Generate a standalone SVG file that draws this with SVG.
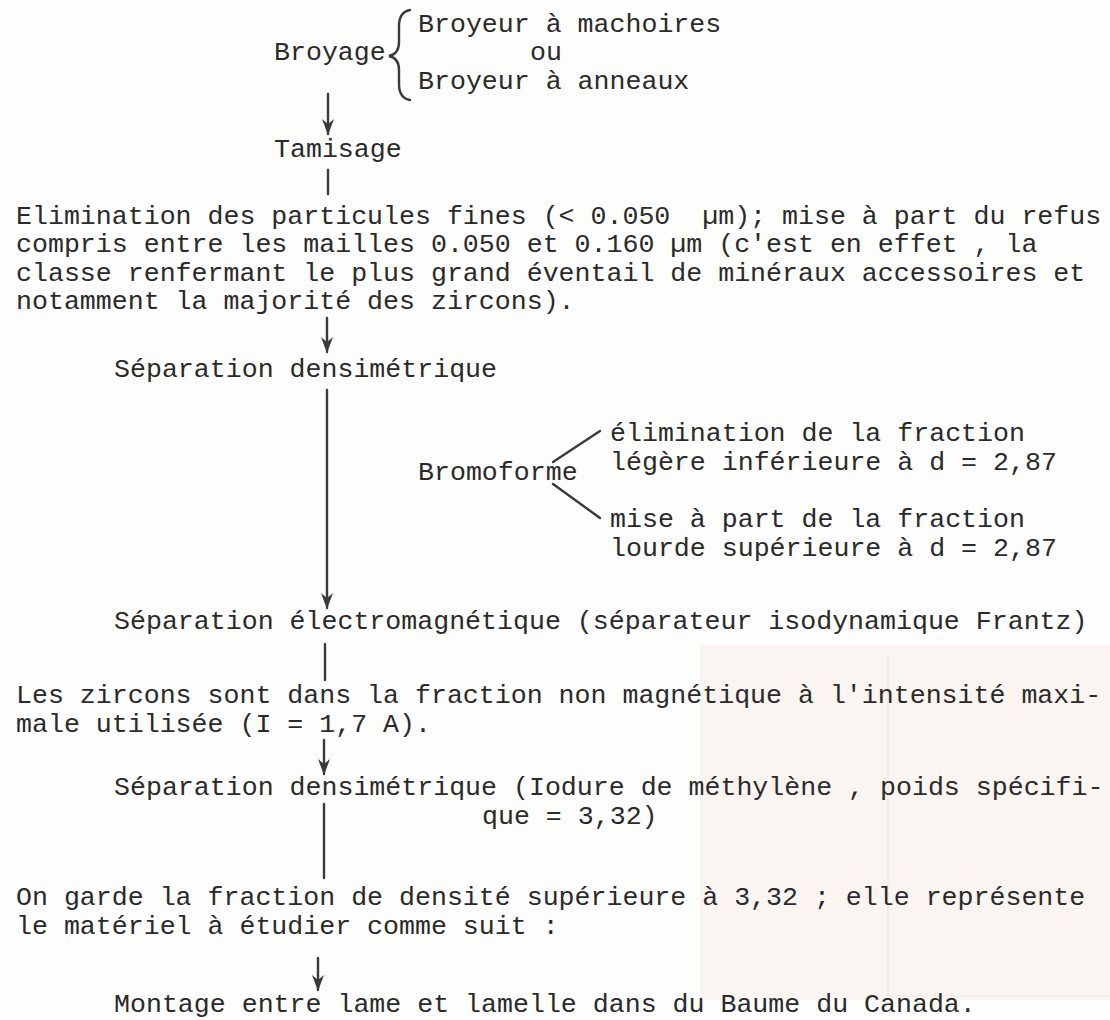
<svg xmlns="http://www.w3.org/2000/svg" width="1110" height="1020" viewBox="0 0 1110 1020">
<defs>
<style>
.t{font-family:"Liberation Mono","Courier New",monospace;font-size:26.6px;fill:#2a2a2a;white-space:pre}
.c{stroke:#3a3a3a;stroke-width:2.4;fill:none;stroke-linecap:round}
</style>
<marker id="ah" viewBox="0 0 16 12" refX="15" refY="6" markerWidth="16" markerHeight="12" markerUnits="userSpaceOnUse" orient="auto">
<path d="M0,0 L16,6 L0,12 L5,6 z" fill="#3a3a3a"/>
</marker>
</defs>
<rect width="1110" height="1020" fill="#fdfdfb"/>
<rect x="700" y="645" width="410" height="355" fill="#faf5f1"/>
<path d="M888,652 L888,996 L1110,996" fill="none" stroke="#efe8e2" stroke-width="1.2"/>
<g id="broyage"><text class="t" x="274" y="60">Broyage</text></g>
<g id="brace"><path class="c" stroke-width="2" d="M410,10 Q399,12 399,26 L399,42 Q399,54 389,56 Q399,58 399,70 L399,84 Q399,98 410,100"/></g>
<g id="broyeurs">
<text class="t" x="418" y="32">Broyeur à machoires</text>
<text class="t" x="530" y="60">ou</text>
<text class="t" x="418" y="89">Broyeur à anneaux</text>
</g>
<g id="tamisage"><text class="t" x="274" y="157">Tamisage</text></g>
<g id="elimination">
<text class="t" x="16" y="224">Elimination des particules fines (&lt; 0.050  µm); mise à part du refus</text>
<text class="t" x="16" y="252">compris entre les mailles 0.050 et 0.160 µm (c'est en effet , la</text>
<text class="t" x="16" y="281">classe renfermant le plus grand éventail de minéraux accessoires et</text>
<text class="t" x="16" y="309">notamment la majorité des zircons).</text>
</g>
<g id="sep-dens1"><text class="t" x="114" y="377">Séparation densimétrique</text></g>
<g id="bromoforme"><text class="t" x="418" y="480">Bromoforme</text></g>
<g id="fraction-legere">
<text class="t" x="610" y="441">élimination de la fraction</text>
<text class="t" x="610" y="470">légère inférieure à d = 2,87</text>
</g>
<g id="fraction-lourde">
<text class="t" x="610" y="527">mise à part de la fraction</text>
<text class="t" x="610" y="556">lourde supérieure à d = 2,87</text>
</g>
<g id="sep-electro"><text class="t" x="114" y="629">Séparation électromagnétique (séparateur isodynamique Frantz)</text></g>
<g id="zircons">
<text class="t" x="16" y="703">Les zircons sont dans la fraction non magnétique à l'intensité maxi-</text>
<text class="t" x="16" y="732">male utilisée (I = 1,7 A).</text>
</g>
<g id="sep-dens2">
<text class="t" x="114" y="795">Séparation densimétrique (Iodure de méthylène , poids spécifi-</text>
<text class="t" x="482" y="824">que = 3,32)</text>
</g>
<g id="garde">
<text class="t" x="16" y="905">On garde la fraction de densité supérieure à 3,32 ; elle représente</text>
<text class="t" x="16" y="934">le matériel à étudier comme suit :</text>
</g>
<g id="montage"><text class="t" x="114" y="1012">Montage entre lame et lamelle dans du Baume du Canada.</text></g>
<g id="connectors">
<line class="c" x1="328" y1="94" x2="328" y2="134" marker-end="url(#ah)"/>
<line class="c" x1="328" y1="170" x2="328" y2="194"/>
<line class="c" x1="327" y1="318" x2="327" y2="352" marker-end="url(#ah)"/>
<line class="c" x1="327" y1="390" x2="327" y2="608" marker-end="url(#ah)"/>
<line class="c" x1="553" y1="462" x2="600" y2="431"/>
<line class="c" x1="553" y1="484" x2="600" y2="518"/>
<line class="c" x1="325" y1="644" x2="325" y2="680"/>
<line class="c" x1="324" y1="740" x2="324" y2="774" marker-end="url(#ah)"/>
<line class="c" x1="324" y1="804" x2="324" y2="878"/>
<line class="c" x1="318" y1="958" x2="318" y2="990" marker-end="url(#ah)"/>
</g>
</svg>
